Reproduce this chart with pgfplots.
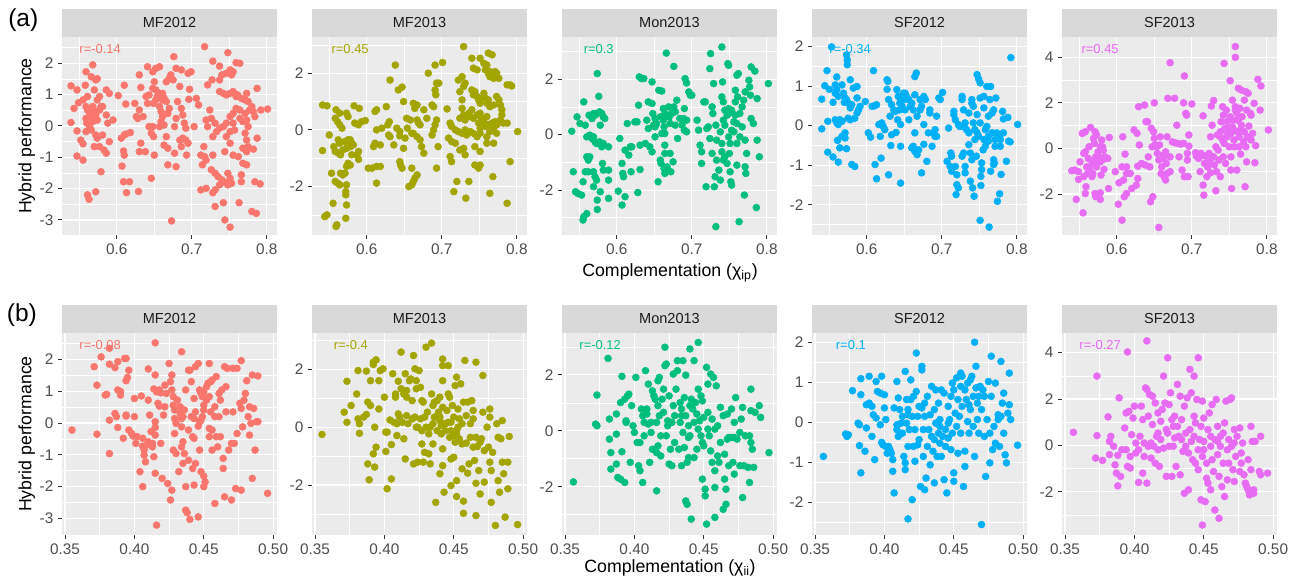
\documentclass[border=0pt]{standalone}
\usepackage{pgfplots}
\pgfplotsset{compat=1.18}
\usepackage{fontspec}
\setmainfont{Liberation Sans}
\definecolor{c1}{HTML}{F8766D}
\definecolor{c2}{HTML}{A3A500}
\definecolor{c3}{HTML}{00BF7D}
\definecolor{c4}{HTML}{00B0F6}
\definecolor{c5}{HTML}{E76BF3}
\definecolor{panelbg}{HTML}{EBEBEB}
\definecolor{stripbg}{HTML}{D9D9D9}
\definecolor{tickc}{HTML}{333333}
\definecolor{labc}{HTML}{4D4D4D}
\definecolor{stript}{HTML}{1A1A1A}
\newcommand{\strip}[1]{\fill[stripbg] (rel axis cs:0,1) rectangle ([yshift=21pt]rel axis cs:1,1); \node[text=stript, font=\fontsize{10.9}{12}\selectfont] at ([yshift=10.5pt]rel axis cs:0.5,1) {#1};}
\newcommand{\rlab}[3]{\node[anchor=west, inner sep=0pt, text=#1, font=\fontsize{9.7}{11}\selectfont] at (rel axis cs:#2,0.94) {#3};}
\pgfplotsset{
 base/.style={scale only axis, width=161.25pt, axis background/.style={fill=panelbg},
  axis line style={draw=none}, grid=both,
  major grid style={white,line width=0.85pt}, minor grid style={white,line width=0.45pt},
  tick align=outside, tick pos=left, major tick length=3pt, minor tick length=0pt,
  tick style={color=tickc, line width=0.7pt},
  ticklabel style={font=\fontsize{11.5}{13}\selectfont, text=labc},
  clip=false, anchor=south west},
 rowa/.style={base, height=148.5pt, xmin=0.527, xmax=0.8135, xtick={0.6,0.7,0.8}, xticklabels={0.6,0.7,0.8}, minor xtick={0.55,0.65,0.75}},
 rowb/.style={base, height=151.5pt, xmin=0.3478, xmax=0.5028, xtick={0.35,0.40,0.45,0.50}, xticklabels={0.35,0.40,0.45,0.50}, minor xtick={0.375,0.425,0.475}},
 pts/.style={only marks, mark=*, mark size=2.6pt, #1, mark options={draw=none, fill=#1}},
}
\begin{document}
\begin{tikzpicture}
\useasboundingbox (0,0) rectangle (971.25pt,435.75pt);
% ---------- row (a) ----------
\begin{axis}[rowa, at={(46.5pt,259.5pt)}, ymin=-3.48, ymax=2.84, ytick={-3,-2,-1,0,1,2}, yticklabels={-3,-2,-1,0,1,2}, minor ytick={-2.5,-1.5,-0.5,0.5,1.5,2.5}]
\addplot[pts=c1] coordinates {(0.539,1.28)(0.547,1.15)(0.539,0.11)(0.543,0.56)(0.549,0.74)(0.547,-0.16)(0.552,-0.45)(0.555,-0.57)(0.547,-0.96)(0.555,-1.09)(0.559,1.73)(0.558,1.30)(0.568,1.95)(0.566,1.57)(0.572,1.47)(0.574,1.51)(0.561,-2.2)(0.563,-2.34)(0.572,-2.1)(0.579,-1.46)(0.559,0.62)(0.561,0.51)(0.564,0.40)(0.566,0.30)(0.568,0.62)(0.570,0.46)(0.572,0.35)(0.559,0.24)(0.560,0.09)(0.564,-0.02)(0.568,0.14)(0.574,0.19)(0.577,0.51)(0.579,0.62)(0.577,0.94)(0.574,0.83)(0.581,0.62)(0.586,0.35)(0.588,0.09)(0.595,0.19)(0.590,1.04)(0.586,1.15)(0.570,1.15)(0.572,-0.29)(0.574,-0.39)(0.570,-0.66)(0.577,-0.66)(0.581,-0.29)(0.583,-0.77)(0.586,-0.87)(0.590,-0.5)(0.559,-0.18)(0.566,-0.13)(0.555,0.83)(0.561,0.94)
(0.602,0.97)(0.610,1.30)(0.612,0.70)(0.606,-0.39)(0.610,-0.29)(0.612,-0.26)(0.609,-0.8)(0.610,-0.93)(0.607,-1.28)(0.609,-1.78)(0.617,-1.78)(0.613,-2.13)(0.629,-2.09)(0.618,-0.21)(0.630,1.63)(0.632,1.23)(0.624,0.72)(0.630,0.51)(0.626,0.30)(0.635,0.30)(0.628,0.24)(0.632,-0.55)(0.630,-0.82)(0.638,-0.82)(0.646,-1.67)(0.641,1.89)(0.639,0.94)(0.641,0.72)(0.643,-0.02)(0.648,-0.02)(0.646,-0.23)(0.649,-0.34)(0.650,-0.93)(0.648,1.73)(0.652,1.84)(0.657,1.89)(0.650,1.41)(0.652,1.15)(0.648,1.2)(0.643,0.99)(0.649,0.72)(0.652,0.83)(0.654,0.94)(0.657,1.04)(0.659,0.94)(0.661,0.83)(0.661,1.04)(0.663,0.89)(0.666,0.78)(0.657,0.62)(0.659,0.46)(0.661,0.30)(0.659,0.14)(0.663,0.03)(0.657,-0.02)(0.668,0.40)(0.670,0.56)(0.666,1.41)(0.670,1.52)(0.672,1.63)(0.675,1.47)(0.676,2.21)(0.679,1.84)(0.686,1.79)(0.684,1.26)(0.681,0.78)(0.686,0.56)(0.688,0.35)(0.690,0.09)(0.692,-0.07)(0.679,0.24)(0.677,-0.02)(0.666,-0.34)(0.663,-0.61)(0.668,-0.71)(0.677,-0.87)(0.684,-0.45)(0.688,-0.39)(0.692,-0.45)(0.695,-0.55)(0.686,-0.66)(0.693,-0.93)(0.668,-1.24)(0.679,-1.30)(0.673,-3.03)(0.695,1.68)(0.699,1.73)(0.697,1.17)(0.696,0.85)(0.703,-0.02)(0.706,0.88)(0.709,0.67)
(0.717,2.53)(0.728,2.07)(0.737,1.91)(0.748,2.34)(0.759,2.02)(0.764,2.0)(0.721,1.31)(0.727,1.47)(0.737,1.47)(0.740,1.63)(0.746,1.68)(0.751,1.79)(0.753,1.63)(0.755,1.73)(0.737,1.1)(0.742,1.04)(0.746,0.99)(0.751,1.04)(0.755,1.10)(0.759,0.94)(0.761,0.99)(0.766,0.88)(0.755,0.40)(0.759,0.56)(0.764,0.51)(0.771,0.40)(0.777,0.51)(0.782,0.46)(0.784,0.30)(0.787,1.2)(0.792,0.51)(0.801,0.54)(0.751,0.30)(0.746,0.09)(0.742,-0.02)(0.737,-0.07)(0.733,-0.18)(0.728,-0.34)(0.726,0.24)(0.724,0.51)(0.731,0.09)(0.755,0.09)(0.757,-0.13)(0.764,0.24)(0.768,0.14)(0.773,0.19)(0.775,-0.02)(0.771,-0.23)(0.773,-0.45)(0.775,-0.66)(0.768,-0.71)(0.773,-0.82)(0.751,-0.18)(0.746,-0.34)(0.751,-0.55)(0.744,-0.82)(0.755,-0.93)(0.762,-0.98)(0.768,-1.19)(0.773,-1.24)(0.766,-1.56)(0.766,-1.78)(0.782,-0.74)(0.787,-0.39)(0.719,0.19)(0.721,-0.02)(0.716,-0.66)(0.712,-0.93)(0.717,-0.98)(0.719,-1.09)(0.714,-1.24)(0.728,-0.93)(0.726,-1.4)(0.731,-1.51)(0.735,-1.62)(0.740,-1.72)(0.748,-1.51)(0.751,-1.67)(0.748,-1.88)(0.745,-1.81)(0.753,-1.83)(0.737,-1.88)(0.728,-2.13)(0.712,-2.04)(0.719,-1.99)(0.731,-2.04)(0.731,-2.57)(0.742,-2.45)(0.763,-2.45)(0.744,-3.0)(0.751,-3.23)(0.780,-2.73)(0.786,-2.79)(0.791,-1.85)(0.784,-1.78)(0.780,0.62)(0.775,0.78)(0.773,1.04)(0.771,0.83)};
\strip{MF2012}
\rlab{c1}{0.08}{r=-0.14}
\end{axis}
\begin{axis}[rowa, at={(234pt,259.5pt)}, ymin=-3.71, ymax=3.28, ytick={-2,0,2}, yticklabels={-2,0,2}, minor ytick={-3,-1,1,3}]
\addplot[pts=c2] coordinates {(0.541,0.88)(0.547,0.85)(0.541,-0.73)(0.550,-0.18)(0.553,-1.53)(0.544,-3.06)(0.547,-3.0)(0.555,-2.59)(0.559,-3.41)(0.560,-3.35)(0.559,0.71)(0.558,0.41)(0.561,0.29)(0.564,0.18)(0.567,0.06)(0.556,-0.59)(0.558,-0.76)(0.562,-0.82)(0.565,-0.88)(0.568,-0.71)(0.571,-0.41)(0.575,-0.35)(0.578,-0.35)(0.580,-0.47)(0.582,-0.53)(0.578,-0.59)(0.573,-0.65)(0.562,-0.35)(0.564,-0.47)(0.558,-1.82)(0.561,-1.88)(0.564,-1.94)(0.565,-1.53)(0.568,-1.59)(0.571,-1.53)(0.573,-1.29)(0.575,-1.18)(0.578,-1.24)(0.573,-1.94)(0.572,-2.18)(0.572,-2.29)(0.573,-2.65)(0.572,-3.12)(0.564,0.59)(0.573,0.59)(0.575,0.47)(0.583,0.85)(0.590,0.76)(0.584,0.24)(0.589,0.18)(0.593,0.29)(0.598,0.33)(0.589,-0.76)(0.587,-0.88)(0.589,-1.04)(0.580,-0.88)
(0.602,-1.35)(0.607,-1.35)(0.613,-1.29)(0.618,-1.29)(0.613,-1.88)(0.609,-0.59)(0.611,-0.47)(0.618,-0.53)(0.611,0.65)(0.613,0.71)(0.613,0.0)(0.620,0.06)(0.626,0.82)(0.628,0.18)(0.630,0.29)(0.629,-0.18)(0.631,-0.24)(0.631,1.76)(0.638,2.29)(0.636,-0.53)(0.642,1.41)(0.647,1.51)(0.640,0.06)(0.644,-0.06)(0.644,-0.21)(0.649,1.0)(0.651,-0.29)(0.649,-0.65)(0.644,-1.12)(0.645,-1.24)(0.647,-1.35)(0.653,0.41)(0.658,0.35)(0.654,0.06)(0.660,-0.12)(0.656,-2.0)(0.660,-1.94)(0.662,-1.82)(0.664,-1.71)(0.667,-1.59)(0.660,-1.35)(0.662,0.94)(0.667,0.88)(0.664,0.76)(0.667,0.35)(0.669,0.24)(0.671,0.18)(0.662,-0.12)(0.667,-0.24)(0.671,-0.35)(0.673,-0.59)(0.676,-0.82)(0.676,0.71)(0.680,0.41)(0.682,2.0)(0.687,0.88)(0.689,0.82)(0.689,0.0)(0.687,-0.18)(0.691,2.29)(0.691,1.41)(0.692,1.24)(0.693,1.65)(0.696,1.65)(0.693,0.35)(0.691,0.18)(0.693,-1.35)(0.695,-0.59)
(0.701,2.38)(0.707,0.74)(0.711,0.24)(0.713,0.12)(0.718,0.0)(0.711,-0.94)(0.713,-1.12)(0.716,-2.18)(0.709,-0.29)(0.713,-0.41)(0.718,-0.47)(0.720,-1.82)(0.722,1.76)(0.727,1.88)(0.729,2.94)(0.724,1.35)(0.727,1.06)(0.727,0.76)(0.729,1.53)(0.731,1.65)(0.729,0.53)(0.731,0.35)(0.724,0.41)(0.722,-0.06)(0.727,-0.12)(0.731,0.0)(0.733,-0.18)(0.729,-0.65)(0.731,-0.88)(0.724,-0.71)(0.732,-2.41)(0.736,-1.82)(0.740,2.53)(0.742,2.18)(0.751,2.53)(0.747,2.12)(0.740,1.41)(0.742,1.24)(0.744,1.35)(0.747,1.18)(0.749,1.06)(0.751,0.94)(0.753,1.12)(0.756,1.29)(0.758,1.12)(0.760,0.94)(0.762,1.06)(0.764,0.82)(0.769,0.88)(0.773,1.18)(0.776,1.06)(0.756,2.35)(0.758,2.12)(0.760,2.29)(0.762,2.71)(0.767,2.65)(0.762,2.0)(0.764,2.06)(0.769,2.0)(0.771,2.06)(0.773,2.0)(0.764,1.88)(0.769,1.82)(0.776,1.82)(0.736,0.59)(0.740,0.71)(0.738,0.47)(0.742,0.41)(0.747,0.53)(0.751,0.59)(0.753,0.41)(0.756,0.29)(0.760,0.47)(0.749,0.24)(0.751,0.06)(0.758,0.12)(0.762,0.18)(0.767,0.24)(0.771,0.29)(0.773,0.18)(0.778,0.35)(0.780,0.53)(0.782,0.24)(0.787,0.24)(0.769,0.06)(0.773,-0.12)(0.764,-0.06)(0.760,-0.24)(0.751,-0.12)(0.747,-0.24)(0.742,-0.12)(0.738,-0.06)(0.744,-0.59)(0.751,-0.76)(0.760,-0.47)(0.769,-0.47)(0.744,-1.24)(0.749,-1.35)(0.751,-1.24)(0.768,-1.65)(0.764,-2.24)(0.787,-2.59)(0.791,-1.12)(0.787,1.59)(0.791,1.59)(0.793,1.55)(0.801,-0.06)(0.780,0.71)(0.778,0.88)};
\strip{MF2013}
\rlab{c2}{0.09}{r=0.45}
\end{axis}
\begin{axis}[rowa, at={(421.5pt,259.5pt)}, ymin=-3.62, ymax=3.52, ytick={-2,0,2}, yticklabels={-2,0,2}, minor ytick={-3,-1,1,3}]
\addplot[pts=c3] coordinates {(0.540,0.12)(0.542,-1.34)(0.545,-2.06)(0.548,-2.12)(0.547,0.64)(0.551,0.40)(0.553,-2.18)(0.555,-1.70)(0.555,-3.08)(0.556,-2.96)(0.560,-2.85)(0.556,1.18)(0.558,0.34)(0.560,-0.08)(0.560,-0.80)(0.562,-0.92)(0.558,-1.34)(0.562,-1.34)(0.564,-0.80)(0.563,0.70)(0.567,0.58)(0.564,-0.02)(0.567,-0.14)(0.569,-0.08)(0.569,0.76)(0.571,0.70)(0.574,2.20)(0.576,1.38)(0.573,0.76)(0.577,0.82)(0.580,0.76)(0.582,0.64)(0.584,0.58)(0.569,-1.34)(0.571,-1.52)(0.573,-1.64)(0.569,-1.88)(0.574,-2.36)(0.574,-2.70)(0.578,-2.06)(0.577,-0.26)(0.578,-0.32)(0.580,-0.44)(0.582,-0.32)(0.581,-1.04)(0.582,-1.28)(0.578,0.34)(0.571,-0.26)(0.573,-0.32)(0.589,-0.44)(0.589,-1.28)(0.589,-1.64)(0.589,-2.30)
(0.602,-2.04)(0.604,-0.14)(0.607,-1.04)(0.608,-1.40)(0.607,-2.54)(0.611,-2.24)(0.609,-1.52)(0.611,-0.56)(0.614,0.40)(0.616,-0.74)(0.618,-0.44)(0.620,-0.44)(0.619,-1.34)(0.628,-2.09)(0.624,0.46)(0.627,0.46)(0.630,2.08)(0.633,2.02)(0.629,1.06)(0.631,-1.26)(0.631,-0.38)(0.638,-0.32)(0.636,2.02)(0.640,0.52)(0.642,0.22)(0.642,1.18)(0.647,1.12)(0.647,1.90)(0.644,-0.44)(0.647,-0.62)(0.648,0.76)(0.649,0.34)(0.651,0.58)(0.651,0.28)(0.651,-0.08)(0.655,-1.70)(0.653,0.40)(0.656,1.60)(0.660,1.57)(0.658,0.64)(0.660,0.04)(0.658,-0.92)(0.659,-1.04)(0.662,0.52)(0.662,0.94)(0.664,0.76)(0.663,0.28)(0.664,0.04)(0.666,2.94)(0.664,-0.38)(0.664,-0.68)(0.663,-1.22)(0.664,-1.40)(0.667,-1.16)(0.669,1.00)(0.670,0.64)(0.671,0.40)(0.671,-0.68)(0.672,-1.34)(0.673,0.76)(0.675,-0.98)(0.676,2.46)(0.676,1.00)(0.678,0.82)(0.680,1.24)(0.681,-0.14)(0.678,0.34)(0.684,0.58)(0.687,0.34)(0.689,0.58)(0.690,0.94)(0.690,0.16)(0.691,2.02)(0.693,1.86)(0.696,1.54)(0.698,1.42)(0.700,1.42)(0.693,0.10)(0.693,0.52)
(0.707,0.52)(0.709,0.16)(0.711,-0.38)(0.713,-0.62)(0.713,-1.04)(0.716,1.18)(0.718,1.18)(0.720,0.22)(0.719,-1.88)(0.722,0.28)(0.724,-0.14)(0.727,-0.68)(0.728,0.76)(0.724,2.38)(0.725,2.92)(0.727,1.00)(0.729,1.84)(0.730,-1.88)(0.731,-1.52)(0.732,0.34)(0.733,-0.20)(0.733,-0.92)(0.736,-1.28)(0.738,-1.64)(0.732,-3.32)(0.740,3.16)(0.738,0.10)(0.740,-0.32)(0.740,-0.62)(0.742,-0.92)(0.740,1.36)(0.741,1.90)(0.742,1.18)(0.742,0.52)(0.744,0.34)(0.744,-0.80)(0.747,-1.04)(0.748,2.56)(0.749,2.50)(0.749,0.94)(0.749,0.76)(0.749,-0.08)(0.751,-0.32)(0.750,-0.68)(0.751,-1.34)(0.752,-1.70)(0.753,-1.82)(0.753,0.16)(0.756,0.46)(0.756,0.10)(0.758,1.18)(0.758,0.70)(0.760,2.14)(0.762,2.20)(0.761,1.36)(0.760,0.40)(0.760,-0.32)(0.760,-1.10)(0.763,-3.14)(0.764,0.76)(0.764,-0.08)(0.767,1.00)(0.767,0.28)(0.769,1.24)(0.770,-2.18)(0.771,1.54)(0.771,-0.20)(0.771,-1.16)(0.772,-1.40)(0.773,-0.68)(0.776,1.96)(0.777,1.72)(0.778,1.42)(0.779,0.58)(0.779,2.44)(0.782,0.40)(0.784,2.29)(0.787,1.30)(0.786,-2.63)(0.787,-0.20)(0.790,-0.80)(0.802,1.84)(0.744,0.88)(0.747,0.70)(0.753,0.88)(0.758,1.60)};
\strip{Mon2013}
\rlab{c3}{0.10}{r=0.3}
\end{axis}
\begin{axis}[rowa, at={(609pt,259.5pt)}, ymin=-2.76, ymax=2.24, ytick={-2,-1,0,1,2}, yticklabels={-2,-1,0,1,2}, minor ytick={-2.5,-1.5,-0.5,0.5,1.5}]
\addplot[pts=c4] coordinates {(0.540,-0.08)(0.540,0.67)(0.544,1.01)(0.547,1.39)(0.548,0.11)(0.550,0.92)(0.548,-0.67)(0.553,1.99)(0.555,0.59)(0.555,-0.79)(0.558,1.03)(0.560,0.91)(0.558,0.82)(0.562,0.74)(0.560,1.23)(0.562,-0.92)(0.564,-0.56)(0.558,0.15)(0.560,0.07)(0.562,0.03)(0.564,0.15)(0.567,0.11)(0.561,-0.37)(0.567,-0.27)(0.567,1.03)(0.569,0.82)(0.571,0.70)(0.570,0.59)(0.571,-0.18)(0.571,-0.31)(0.573,1.79)(0.574,1.66)(0.574,1.54)(0.573,-0.58)(0.573,0.66)(0.575,0.57)(0.578,0.45)(0.580,0.53)(0.578,1.16)(0.575,0.19)(0.578,0.15)(0.580,-0.98)(0.584,-1.03)(0.582,0.95)(0.587,0.99)(0.587,0.70)(0.589,0.40)(0.591,0.49)(0.584,0.19)(0.587,0.32)(0.598,0.61)
(0.602,-0.18)(0.605,-0.29)(0.607,0.49)(0.609,1.39)(0.610,0.50)(0.613,0.53)(0.611,-0.98)(0.613,-1.34)(0.616,0.03)(0.618,-0.27)(0.619,-0.82)(0.620,0.07)(0.622,-0.02)(0.624,-0.10)(0.627,1.16)(0.627,0.92)(0.628,1.12)(0.629,-1.24)(0.629,0.66)(0.631,0.24)(0.632,-0.50)(0.633,-0.23)(0.633,0.53)(0.636,0.40)(0.638,0.36)(0.640,0.91)(0.639,-0.17)(0.641,0.15)(0.642,0.74)(0.644,0.40)(0.644,0.57)(0.645,0.03)(0.645,-0.52)(0.645,-1.45)(0.647,0.49)(0.649,0.82)(0.650,0.66)(0.651,0.40)(0.651,0.82)(0.653,0.74)(0.656,0.66)(0.656,0.15)(0.658,0.49)(0.660,0.57)(0.662,0.40)(0.664,0.78)(0.664,1.24)(0.666,1.33)(0.667,0.24)(0.664,-0.18)(0.662,-0.52)(0.660,-0.56)(0.664,-0.65)(0.667,-0.73)(0.669,-0.61)(0.671,0.66)(0.673,0.49)(0.671,0.40)(0.673,-1.19)(0.676,0.03)(0.676,0.74)(0.678,0.66)(0.676,-0.47)(0.680,-0.90)(0.682,-0.18)(0.684,0.32)(0.684,0.40)(0.687,-0.52)(0.689,-0.18)(0.691,-0.27)(0.691,-0.10)(0.693,0.24)(0.696,0.70)(0.698,0.66)(0.701,0.84)(0.693,-0.27)
(0.707,-0.90)(0.709,-0.06)(0.712,-0.69)(0.713,-0.77)(0.711,-1.03)(0.713,-1.15)(0.716,0.36)(0.716,0.28)(0.718,-1.03)(0.720,-1.24)(0.720,-1.49)(0.722,-1.57)(0.719,-1.74)(0.718,0.15)(0.722,0.03)(0.724,-0.02)(0.727,-0.02)(0.727,0.74)(0.727,0.66)(0.727,-0.77)(0.729,-0.69)(0.731,-1.03)(0.731,-1.19)(0.729,0.40)(0.731,0.07)(0.733,-0.10)(0.736,0.32)(0.736,-0.18)(0.736,-0.48)(0.738,-1.40)(0.738,-0.69)(0.740,-0.86)(0.740,0.66)(0.740,0.57)(0.741,-1.57)(0.743,-1.78)(0.742,0.49)(0.742,0.07)(0.744,-0.10)(0.744,-0.35)(0.746,-0.77)(0.747,1.29)(0.749,1.18)(0.747,-0.18)(0.749,-0.27)(0.751,1.08)(0.751,0.70)(0.752,-1.28)(0.752,-1.51)(0.751,-2.39)(0.753,-0.94)(0.753,-1.11)(0.755,-0.61)(0.756,-0.35)(0.756,0.45)(0.756,0.74)(0.758,-0.52)(0.760,0.99)(0.760,-0.02)(0.762,-0.27)(0.762,-0.39)(0.763,-2.56)(0.764,0.66)(0.765,0.99)(0.765,-1.15)(0.767,0.32)(0.769,0.40)(0.769,-0.86)(0.769,-0.98)(0.770,-0.94)(0.771,-0.35)(0.771,-0.52)(0.772,0.70)(0.773,-0.18)(0.774,-1.91)(0.776,-0.27)(0.777,-1.72)(0.778,-0.52)(0.778,-0.35)(0.779,-1.23)(0.781,0.36)(0.782,0.17)(0.782,-0.18)(0.786,-0.90)(0.788,0.21)(0.789,-0.39)(0.791,-0.41)(0.792,1.72)(0.801,0.03)(0.758,-0.10)(0.767,-0.18)(0.762,0.24)(0.751,0.07)(0.747,0.28)};
\strip{SF2012}
\rlab{c4}{0.08}{r=-0.34}
\end{axis}
\begin{axis}[rowa, at={(796.5pt,259.5pt)}, ymin=-3.8, ymax=4.89, ytick={-2,0,2,4}, yticklabels={-2,0,2,4}, minor ytick={-3,-1,1,3}]
\addplot[pts=c5] coordinates {(0.540,-0.98)(0.544,-0.95)(0.546,-2.24)(0.549,-1.36)(0.551,-0.59)(0.549,-1.02)(0.554,0.66)(0.555,-2.83)(0.558,0.73)(0.556,-0.22)(0.558,-0.15)(0.556,-1.24)(0.558,-1.98)(0.559,-1.68)(0.560,-0.81)(0.561,-1.10)(0.562,-0.44)(0.563,0.07)(0.565,0.92)(0.564,-0.88)(0.567,-0.66)(0.568,-1.10)(0.567,-1.24)(0.569,0.44)(0.570,0.22)(0.571,0.73)(0.571,-0.51)(0.572,-0.37)(0.571,-1.98)(0.572,-2.12)(0.573,0.59)(0.573,-0.81)(0.575,-0.15)(0.575,-0.29)(0.578,0.07)(0.578,-0.59)(0.579,-1.17)(0.580,0.37)(0.581,0.07)(0.582,-0.07)(0.582,-0.48)(0.578,-2.24)(0.578,-1.95)(0.583,-0.92)(0.584,-0.37)(0.588,-0.44)(0.589,-1.76)(0.590,0.48)(0.598,-1.02)
(0.602,-2.45)(0.603,-1.51)(0.607,-3.15)(0.608,0.51)(0.607,-0.81)(0.609,-1.39)(0.610,-2.12)(0.611,-0.25)(0.613,-0.81)(0.613,-1.10)(0.613,-1.98)(0.618,-1.10)(0.620,-1.76)(0.623,0.81)(0.626,-1.61)(0.627,0.66)(0.628,-0.78)(0.628,-1.32)(0.629,1.83)(0.630,0.15)(0.633,-0.66)(0.637,1.90)(0.638,-0.73)(0.639,1.17)(0.641,1.17)(0.642,-0.37)(0.644,-0.81)(0.645,-2.34)(0.646,0.88)(0.647,0.07)(0.648,-2.12)(0.649,0.73)(0.650,2.00)(0.650,0.44)(0.651,0.15)(0.653,0.07)(0.654,-0.22)(0.656,-3.47)(0.656,-0.51)(0.657,0.15)(0.658,0.51)(0.659,-1.10)(0.660,-0.81)(0.662,-0.44)(0.662,-0.29)(0.663,-1.24)(0.665,-1.39)(0.665,-0.15)(0.666,-0.66)(0.667,-1.10)(0.667,0.51)(0.668,2.20)(0.671,3.76)(0.671,-1.02)(0.671,-0.37)(0.674,0.29)(0.677,2.20)(0.677,0.25)(0.680,1.02)(0.681,0.22)(0.683,-0.37)(0.685,0.19)(0.687,-0.95)(0.689,2.00)(0.689,0.22)(0.690,3.18)(0.690,-1.24)(0.692,1.54)(0.693,1.46)(0.694,-0.51)(0.694,-0.22)(0.695,-1.24)(0.696,0.59)(0.696,0.10)(0.700,1.95)
(0.705,-0.19)(0.706,-0.34)(0.709,-0.44)(0.711,-1.02)(0.712,-0.22)(0.714,-0.29)(0.715,1.43)(0.715,-1.61)(0.716,-2.05)(0.717,-0.66)(0.718,-0.34)(0.720,-1.24)(0.721,-0.81)(0.723,-0.22)(0.724,-0.54)(0.725,0.51)(0.725,-1.07)(0.726,1.86)(0.727,1.02)(0.729,2.10)(0.729,-0.37)(0.730,-0.73)(0.732,-1.86)(0.732,0.07)(0.733,-1.02)(0.735,-0.07)(0.736,-0.51)(0.738,-1.24)(0.738,0.51)(0.738,0.73)(0.739,1.17)(0.741,1.83)(0.742,1.46)(0.742,-0.37)(0.743,3.73)(0.743,0.22)(0.744,0.88)(0.745,-0.66)(0.746,1.68)(0.747,1.17)(0.747,0.51)(0.748,0.66)(0.750,0.88)(0.750,0.07)(0.751,2.97)(0.751,1.39)(0.752,0.66)(0.752,-0.37)(0.752,-0.95)(0.753,-1.76)(0.754,2.12)(0.754,0.95)(0.755,1.24)(0.756,0.37)(0.757,0.07)(0.758,4.0)(0.758,4.47)(0.758,1.83)(0.760,1.54)(0.760,-0.95)(0.761,1.24)(0.761,0.73)(0.762,2.64)(0.763,0.51)(0.763,0.07)(0.764,1.76)(0.765,0.81)(0.765,-0.25)(0.766,2.56)(0.766,1.02)(0.767,1.39)(0.769,0.29)(0.770,2.12)(0.770,0.73)(0.771,-1.68)(0.772,2.49)(0.772,0.07)(0.773,1.68)(0.773,-0.59)(0.774,0.51)(0.775,2.42)(0.776,0.98)(0.778,1.54)(0.779,1.46)(0.779,0.37)(0.781,0.66)(0.783,1.98)(0.784,-0.63)(0.785,0.12)(0.788,3.03)(0.791,1.68)(0.792,2.74)(0.802,0.81)(0.734,0.59)(0.741,0.37)(0.756,0.81)(0.763,1.32)(0.758,1.68)};
\strip{SF2013}
\rlab{c5}{0.09}{r=0.45}
\end{axis}
% ---------- row (b) ----------
\begin{axis}[rowb, at={(46.5pt,34.5pt)}, ymin=-3.52, ymax=2.83, ytick={-3,-2,-1,0,1,2}, yticklabels={-3,-2,-1,0,1,2}, minor ytick={-2.5,-1.5,-0.5,0.5,1.5,2.5}]
\addplot[pts=c1] coordinates {(0.355,-0.22)(0.371,1.77)(0.373,1.19)(0.373,-0.35)(0.376,2.08)(0.382,2.35)(0.382,1.85)(0.386,1.74)(0.388,1.93)(0.393,2.03)(0.394,2.03)(0.380,0.90)(0.379,0.88)(0.382,-0.96)(0.382,0.09)(0.386,0.30)(0.387,0.20)(0.388,-0.14)(0.388,1.04)(0.390,0.99)(0.390,0.88)(0.392,-0.48)(0.394,0.22)(0.394,0.25)(0.394,1.33)(0.395,1.43)(0.396,1.66)(0.396,-0.22)(0.398,-0.33)(0.400,0.77)(0.400,0.20)(0.401,-0.64)(0.399,-0.41)(0.402,-0.43)(0.404,-1.53)(0.406,-2.0)(0.405,0.85)(0.406,-0.48)(0.406,-0.73)(0.407,-0.85)(0.407,-1.01)(0.408,-1.22)(0.409,-0.69)(0.410,-0.59)(0.410,1.70)(0.410,0.72)(0.411,0.25)(0.412,-0.27)(0.413,-0.64)(0.413,-0.75)(0.414,-1.06)(0.414,1.07)(0.415,2.52)(0.415,1.51)(0.415,0.04)(0.415,-0.14)(0.415,-0.38)(0.415,-1.58)(0.416,-3.21)(0.416,0.98)(0.417,0.62)(0.418,0.53)(0.418,1.04)(0.419,0.95)(0.419,-0.64)(0.420,-1.74)(0.421,0.25)(0.422,1.19)(0.422,0.51)(0.423,0.93)(0.424,-1.90)(0.425,1.87)(0.427,1.51)(0.426,-2.42)(0.427,-2.11)(0.426,1.30)(0.427,1.04)(0.428,0.83)(0.428,0.56)(0.429,0.41)(0.429,0.14)(0.428,-0.85)(0.430,-0.96)(0.430,-0.01)(0.431,0.72)(0.432,-1.53)(0.433,0.51)(0.433,0.30)(0.434,2.24)(0.434,0.14)(0.434,-0.12)(0.435,0.20)(0.435,-1.27)(0.435,-0.59)(0.436,0.41)(0.436,-0.96)(0.437,-2.0)(0.437,-2.74)(0.438,-2.82)(0.439,1.66)(0.439,-0.22)(0.439,-1.17)(0.440,-3.03)(0.440,1.66)(0.441,1.30)(0.441,0.20)(0.442,-1.43)(0.442,-0.43)(0.443,-1.95)(0.443,0.14)(0.443,0.77)(0.443,-0.48)(0.444,1.77)(0.444,0.35)(0.444,-1.27)(0.446,1.87)(0.446,-0.10)(0.446,-2.95)(0.447,-0.85)(0.447,0.04)(0.447,1.04)(0.448,-1.53)(0.448,0.09)(0.449,0.20)(0.449,0.83)(0.450,0.56)(0.450,-1.67)(0.450,0.98)(0.450,0.41)(0.450,-2.0)(0.451,-1.85)(0.452,1.14)(0.452,0.72)(0.453,1.25)(0.454,-0.17)(0.454,1.87)(0.454,-0.43)(0.455,0.35)(0.455,1.30)(0.456,-0.85)(0.456,-0.22)(0.456,1.35)(0.458,-2.53)(0.458,0.51)(0.458,0.20)(0.459,-0.43)(0.459,1.46)(0.460,-0.75)(0.461,0.93)(0.461,0.20)(0.462,0.72)(0.462,-0.43)(0.463,1.04)(0.464,-1.11)(0.464,-1.43)(0.465,1.77)(0.465,-2.32)(0.466,1.14)(0.466,0.35)(0.467,1.72)(0.468,-0.85)(0.470,-2.42)(0.470,-0.64)(0.471,0.35)(0.471,1.72)(0.472,-0.64)(0.473,-2.06)(0.474,1.72)(0.474,-0.33)(0.477,1.96)(0.477,-2.11)(0.476,0.62)(0.477,0.46)(0.478,-0.12)(0.479,0.72)(0.480,0.93)(0.481,1.33)(0.482,0.20)(0.483,0.51)(0.483,-0.38)(0.484,-0.01)(0.485,-1.74)(0.485,1.51)(0.486,0.46)(0.487,-0.85)(0.488,0.04)(0.489,1.48)(0.489,0.04)(0.496,-2.21)(0.454,0.83)(0.448,0.93)(0.437,1.04)(0.429,-0.33)(0.434,-0.75)};
\strip{MF2012}
\rlab{c1}{0.08}{r=-0.08}
\end{axis}
\begin{axis}[rowb, at={(234pt,34.5pt)}, ymin=-3.73, ymax=3.26, ytick={-2,0,2}, yticklabels={-2,0,2}, minor ytick={-3,-1,1,3}]
\addplot[pts=c2] coordinates {(0.355,-0.25)(0.371,0.52)(0.373,1.59)(0.373,0.17)(0.376,0.75)(0.380,1.15)(0.381,1.96)(0.381,0.29)(0.382,0.12)(0.382,-0.21)(0.385,0.35)(0.387,0.44)(0.387,1.94)(0.388,-1.27)(0.389,-1.82)(0.388,0.87)(0.390,0.75)(0.390,1.61)(0.392,2.17)(0.392,2.25)(0.394,2.33)(0.392,-0.92)(0.393,0.0)(0.393,-1.38)(0.394,-0.69)(0.396,0.63)(0.396,1.61)(0.397,1.96)(0.399,2.02)(0.400,1.04)(0.401,-0.17)(0.401,-0.84)(0.402,-2.13)(0.402,-0.17)(0.404,0.25)(0.405,-1.79)(0.405,-0.60)(0.406,1.85)(0.407,0.17)(0.408,1.15)(0.408,1.04)(0.409,0.12)(0.409,-0.29)(0.410,0.46)(0.410,1.59)(0.411,0.35)(0.412,1.33)(0.412,2.60)(0.413,0.17)(0.414,1.15)(0.414,-0.40)(0.415,-1.10)(0.415,1.85)(0.416,1.27)(0.416,1.04)(0.416,0.40)(0.417,0.12)(0.418,1.61)(0.419,1.67)(0.420,0.29)(0.420,0.92)(0.421,2.48)(0.421,-1.27)(0.422,2.02)(0.422,0.35)(0.423,1.33)(0.423,1.61)(0.423,0.0)(0.424,-1.21)(0.424,0.0)(0.425,1.96)(0.426,0.29)(0.426,1.38)(0.427,0.92)(0.427,-0.58)(0.427,-0.12)(0.428,-1.21)(0.428,0.87)(0.429,0.35)(0.429,-0.87)(0.430,2.77)(0.430,0.0)(0.431,0.52)(0.432,-0.23)(0.432,-0.92)(0.433,0.0)(0.433,-1.27)(0.434,2.91)(0.434,1.15)(0.435,0.75)(0.435,0.12)(0.435,-0.58)(0.436,0.35)(0.436,0.87)(0.437,-2.60)(0.438,-0.12)(0.438,0.92)(0.439,0.52)(0.440,0.23)(0.440,1.04)(0.440,-1.61)(0.440,0.35)(0.441,0.06)(0.441,-0.23)(0.442,2.36)(0.442,1.61)(0.442,-1.33)(0.442,2.13)(0.442,0.69)(0.442,-0.75)(0.443,-2.25)(0.444,-0.12)(0.444,0.12)(0.445,0.58)(0.446,0.17)(0.446,2.13)(0.446,1.15)(0.447,-0.35)(0.447,1.04)(0.448,-1.10)(0.448,-0.12)(0.448,-2.02)(0.449,0.75)(0.450,-1.04)(0.450,-0.29)(0.450,0.35)(0.451,1.44)(0.451,-0.52)(0.452,-2.40)(0.452,1.73)(0.452,-1.85)(0.452,-0.23)(0.453,0.63)(0.454,-0.40)(0.454,0.29)(0.455,1.50)(0.456,-0.58)(0.456,-1.44)(0.457,0.87)(0.457,-2.56)(0.457,-2.98)(0.458,2.31)(0.459,0.40)(0.459,-0.55)(0.460,0.87)(0.460,-1.59)(0.461,-1.27)(0.462,0.12)(0.462,-0.35)(0.463,0.92)(0.464,-0.69)(0.464,0.58)(0.464,0.29)(0.465,-1.15)(0.466,-3.06)(0.466,-1.94)(0.466,2.25)(0.466,-0.35)(0.467,-0.67)(0.468,-1.50)(0.469,-0.52)(0.469,-2.31)(0.470,-0.40)(0.471,0.52)(0.471,1.79)(0.472,-0.81)(0.472,-1.90)(0.474,0.0)(0.475,-0.69)(0.476,0.63)(0.476,0.35)(0.476,-1.21)(0.477,-1.50)(0.477,-2.60)(0.478,-0.87)(0.480,-3.40)(0.481,0.12)(0.482,-0.35)(0.482,-1.85)(0.483,-2.25)(0.484,-0.40)(0.485,0.23)(0.485,-1.21)(0.486,-1.61)(0.487,-3.11)(0.489,-1.21)(0.489,-2.13)(0.490,-0.32)(0.496,-3.37)(0.456,0.12)(0.453,0.0)(0.448,0.17)(0.452,-0.12)};
\strip{MF2013}
\rlab{c2}{0.10}{r=-0.4}
\end{axis}
\begin{axis}[rowb, at={(421.5pt,34.5pt)}, ymin=-3.73, ymax=3.50, ytick={-2,0,2}, yticklabels={-2,0,2}, minor ytick={-3,-1,1,3}]
\addplot[pts=c3] coordinates {(0.356,-1.83)(0.372,0.24)(0.373,0.18)(0.373,1.28)(0.381,2.59)(0.382,0.42)(0.382,-0.30)(0.383,-0.78)(0.383,-1.37)(0.387,0.60)(0.387,-0.12)(0.387,-1.19)(0.388,-1.67)(0.390,-1.73)(0.391,1.95)(0.391,-0.75)(0.390,1.01)(0.393,1.13)(0.393,-1.85)(0.394,0.36)(0.394,0.30)(0.395,1.25)(0.396,1.31)(0.397,-1.13)(0.398,0.90)(0.399,0.18)(0.400,-0.06)(0.401,1.91)(0.402,-0.42)(0.403,-1.25)(0.404,-0.42)(0.404,-1.43)(0.405,0.78)(0.406,-1.85)(0.406,0.54)(0.407,0.30)(0.407,-0.18)(0.408,2.15)(0.409,0.78)(0.409,0.60)(0.410,1.67)(0.410,0.24)(0.411,-1.13)(0.412,0.30)(0.412,-0.06)(0.413,-0.66)(0.413,1.43)(0.414,1.25)(0.415,1.13)(0.415,-0.66)(0.416,-0.78)(0.416,-2.15)(0.416,0.30)(0.417,1.79)(0.417,0.90)(0.417,-0.54)(0.418,1.91)(0.418,0.54)(0.419,-0.90)(0.419,-0.18)(0.420,1.13)(0.421,1.49)(0.421,0.66)(0.422,2.33)(0.422,2.99)(0.423,2.39)(0.423,-0.18)(0.424,0.18)(0.424,0.36)(0.425,-1.19)(0.425,1.25)(0.426,-0.66)(0.427,-1.25)(0.427,0.30)(0.428,0.90)(0.428,2.03)(0.429,-0.42)(0.429,0.54)(0.430,1.49)(0.431,2.51)(0.431,2.15)(0.432,-0.66)(0.433,1.01)(0.433,0.30)(0.434,-1.25)(0.434,0.78)(0.435,2.51)(0.435,-0.06)(0.436,1.19)(0.436,-0.60)(0.437,1.99)(0.437,-2.51)(0.437,0.54)(0.438,-2.63)(0.438,-1.13)(0.439,-0.96)(0.439,0.18)(0.440,2.93)(0.440,0.90)(0.440,-0.18)(0.441,1.13)(0.441,-3.16)(0.442,0.78)(0.443,-0.96)(0.443,2.51)(0.443,0.30)(0.444,1.01)(0.445,0.60)(0.445,-0.66)(0.446,3.16)(0.446,1.49)(0.447,0.36)(0.448,-0.18)(0.448,1.25)(0.449,-0.42)(0.449,1.07)(0.449,-1.73)(0.450,0.48)(0.450,-0.54)(0.451,-2.09)(0.451,-2.33)(0.452,-3.34)(0.452,2.27)(0.453,0.66)(0.453,1.67)(0.454,-0.18)(0.455,-0.72)(0.455,2.03)(0.456,-1.13)(0.456,0.42)(0.457,1.91)(0.458,-1.43)(0.458,-3.10)(0.458,-2.03)(0.459,1.61)(0.460,-0.90)(0.460,0.18)(0.461,-1.13)(0.462,0.84)(0.462,-0.42)(0.464,-2.81)(0.464,0.54)(0.465,-1.73)(0.465,-0.84)(0.466,-2.09)(0.466,-2.63)(0.467,-0.30)(0.467,0.60)(0.468,-1.25)(0.468,-0.24)(0.470,0.78)(0.470,-0.24)(0.471,-1.13)(0.472,-1.55)(0.472,0.30)(0.472,-0.24)(0.473,1.19)(0.474,-0.30)(0.476,-1.25)(0.476,-0.06)(0.477,0.42)(0.478,-2.39)(0.478,0.84)(0.479,-1.25)(0.480,-0.18)(0.482,-1.31)(0.483,-0.18)(0.483,-1.85)(0.484,-0.42)(0.484,1.49)(0.484,0.72)(0.485,-0.66)(0.486,-1.31)(0.487,0.66)(0.490,0.90)(0.491,0.48)(0.497,-0.78)(0.458,0.06)(0.453,0.06)(0.446,0.06)(0.439,-0.24)(0.434,0.54)};
\strip{Mon2013}
\rlab{c3}{0.08}{r=-0.12}
\end{axis}
\begin{axis}[rowb, at={(609pt,34.5pt)}, ymin=-2.81, ymax=2.23, ytick={-2,-1,0,1,2}, yticklabels={-2,-1,0,1,2}, minor ytick={-2.5,-1.5,-0.5,0.5,1.5}]
\addplot[pts=c4] coordinates {(0.356,-0.85)(0.372,-0.29)(0.373,-0.35)(0.374,-0.31)(0.377,0.79)(0.381,-0.02)(0.382,-0.06)(0.382,-0.58)(0.383,-1.26)(0.383,1.09)(0.383,0.69)(0.386,-0.72)(0.387,-0.14)(0.387,0.44)(0.389,1.15)(0.389,0.48)(0.391,0.40)(0.391,-0.35)(0.392,0.19)(0.393,-0.93)(0.394,0.11)(0.394,1.02)(0.395,0.77)(0.397,0.73)(0.397,-0.06)(0.398,1.15)(0.398,-0.50)(0.399,-0.56)(0.400,0.69)(0.400,0.36)(0.401,-0.60)(0.401,0.07)(0.402,-0.77)(0.403,-0.60)(0.404,-0.68)(0.405,-0.77)(0.406,-1.22)(0.406,-0.93)(0.407,-1.76)(0.407,0.36)(0.409,1.02)(0.409,-0.06)(0.409,-0.18)(0.410,0.61)(0.410,-0.35)(0.411,0.32)(0.412,-0.02)(0.413,0.15)(0.413,-0.27)(0.414,-0.85)(0.415,-1.01)(0.415,1.27)(0.415,-1.18)(0.416,-0.02)(0.416,0.57)(0.417,-2.41)(0.417,0.32)(0.417,-0.60)(0.417,0.19)(0.418,-0.18)(0.419,1.06)(0.419,0.57)(0.420,-1.93)(0.420,0.15)(0.421,-0.60)(0.421,0.65)(0.422,-0.97)(0.422,-0.18)(0.423,1.73)(0.423,0.77)(0.424,0.15)(0.424,-0.56)(0.425,0.40)(0.425,-0.43)(0.426,-1.60)(0.427,1.40)(0.427,1.31)(0.427,0.36)(0.428,-0.18)(0.428,-0.85)(0.429,0.48)(0.429,-1.68)(0.430,-1.39)(0.431,-0.60)(0.431,0.65)(0.432,-0.18)(0.433,0.19)(0.433,-1.06)(0.434,-0.35)(0.434,0.90)(0.435,-0.72)(0.436,0.32)(0.436,-1.51)(0.436,-0.43)(0.437,-0.02)(0.437,0.81)(0.438,-0.85)(0.439,-0.27)(0.439,0.48)(0.440,-0.52)(0.440,0.07)(0.441,0.81)(0.441,-0.85)(0.442,-0.35)(0.443,-1.43)(0.443,0.73)(0.444,-0.18)(0.444,-0.60)(0.445,-1.76)(0.446,0.40)(0.446,-0.39)(0.447,0.07)(0.448,0.65)(0.448,-0.68)(0.449,0.98)(0.449,-0.27)(0.450,-1.47)(0.450,-1.26)(0.450,0.81)(0.451,0.23)(0.452,1.11)(0.452,-0.10)(0.453,0.57)(0.453,-0.77)(0.454,0.15)(0.455,0.90)(0.455,1.23)(0.456,0.40)(0.456,1.15)(0.457,-1.60)(0.458,-0.72)(0.458,0.81)(0.458,-1.10)(0.459,0.57)(0.460,0.02)(0.460,0.98)(0.461,-0.27)(0.461,0.44)(0.462,1.06)(0.462,0.32)(0.463,1.15)(0.464,0.65)(0.464,-0.10)(0.465,2.0)(0.465,-0.85)(0.466,1.40)(0.466,0.86)(0.467,0.48)(0.467,0.07)(0.468,0.65)(0.468,-0.27)(0.469,0.90)(0.470,0.32)(0.470,-2.55)(0.471,0.81)(0.472,-0.35)(0.472,0.65)(0.473,-1.35)(0.474,0.07)(0.475,1.02)(0.476,-0.27)(0.476,-1.01)(0.477,1.65)(0.477,0.65)(0.478,-0.68)(0.479,-0.10)(0.480,0.98)(0.480,-0.52)(0.482,0.19)(0.482,0.07)(0.483,-0.60)(0.484,1.52)(0.484,0.15)(0.485,0.48)(0.486,0.73)(0.486,-0.27)(0.487,-0.81)(0.488,-1.01)(0.489,0.23)(0.490,1.23)(0.490,0.44)(0.491,0.07)(0.496,-0.57)(0.446,-0.02)(0.440,-0.10)(0.455,-0.27)(0.429,0.15)};
\strip{SF2012}
\rlab{c4}{0.11}{r=0.1}
\end{axis}
\begin{axis}[rowb, at={(796.5pt,34.5pt)}, ymin=-3.87, ymax=4.85, ytick={-2,0,2,4}, yticklabels={-2,0,2,4}, minor ytick={-3,-1,1,3}]
\addplot[pts=c5] coordinates {(0.356,0.56)(0.372,-0.55)(0.373,0.42)(0.373,2.99)(0.377,-0.65)(0.381,1.23)(0.382,-0.40)(0.382,0.17)(0.383,0.39)(0.385,-0.04)(0.386,-0.84)(0.387,-1.20)(0.388,-0.43)(0.388,-1.75)(0.389,2.05)(0.390,-1.34)(0.391,-0.19)(0.393,0.75)(0.394,-0.19)(0.394,1.40)(0.395,-0.91)(0.395,4.03)(0.396,1.47)(0.397,-0.48)(0.397,-0.98)(0.398,0.46)(0.399,1.18)(0.400,1.69)(0.401,0.10)(0.401,-0.33)(0.403,-1.60)(0.403,-0.19)(0.404,0.39)(0.405,1.69)(0.406,-1.20)(0.406,1.11)(0.407,0.10)(0.407,-0.48)(0.408,2.48)(0.409,2.41)(0.409,-1.63)(0.409,4.51)(0.410,1.26)(0.410,-0.04)(0.411,2.19)(0.412,-0.55)(0.412,0.10)(0.413,2.12)(0.413,0.90)(0.414,-0.04)(0.415,1.83)(0.415,-0.77)(0.416,0.39)(0.417,-0.19)(0.417,1.40)(0.417,0.53)(0.418,-0.91)(0.419,0.25)(0.419,1.04)(0.420,1.55)(0.421,-0.12)(0.421,2.99)(0.422,1.83)(0.423,-1.34)(0.423,0.68)(0.424,0.53)(0.424,3.78)(0.425,1.76)(0.425,-0.04)(0.426,2.27)(0.427,-1.34)(0.427,1.11)(0.428,-0.04)(0.428,0.82)(0.429,1.26)(0.429,0.32)(0.430,-0.91)(0.431,2.63)(0.431,0.82)(0.432,0.39)(0.433,2.12)(0.433,-1.27)(0.434,1.11)(0.434,0.25)(0.435,-0.26)(0.436,-2.07)(0.436,1.69)(0.437,-0.04)(0.437,0.53)(0.438,2.05)(0.439,-1.92)(0.439,-0.33)(0.440,0.68)(0.440,3.28)(0.441,0.17)(0.441,2.27)(0.442,-0.62)(0.443,2.99)(0.443,1.26)(0.443,0.39)(0.444,-0.77)(0.444,0.97)(0.445,1.98)(0.446,3.78)(0.446,-0.19)(0.446,-1.05)(0.447,0.25)(0.448,-2.35)(0.448,0.82)(0.449,1.91)(0.449,-0.48)(0.449,-3.44)(0.450,1.18)(0.450,0.17)(0.451,-2.43)(0.452,-1.42)(0.452,-0.77)(0.453,-1.63)(0.453,0.68)(0.454,1.40)(0.455,-0.04)(0.455,-1.92)(0.456,-0.62)(0.456,1.76)(0.457,-1.13)(0.458,0.25)(0.458,-2.79)(0.459,1.98)(0.460,-0.40)(0.460,0.82)(0.461,-3.15)(0.461,-1.34)(0.462,-0.04)(0.462,0.39)(0.463,-1.78)(0.464,-0.77)(0.464,0.53)(0.465,0.97)(0.465,-2.21)(0.466,1.91)(0.467,-0.19)(0.467,-1.49)(0.468,0.25)(0.468,-0.77)(0.469,1.98)(0.470,2.05)(0.470,-0.04)(0.471,-1.05)(0.472,0.68)(0.472,0.10)(0.472,-1.56)(0.473,-0.48)(0.474,0.39)(0.476,-1.13)(0.476,0.75)(0.477,-0.77)(0.477,-0.33)(0.478,0.10)(0.479,-1.27)(0.480,-1.63)(0.481,-1.78)(0.482,-1.92)(0.482,-0.62)(0.483,-1.99)(0.483,-2.14)(0.484,0.82)(0.484,-1.05)(0.485,0.17)(0.486,-2.07)(0.486,-1.92)(0.487,0.17)(0.490,-1.13)(0.491,0.39)(0.491,-1.27)(0.496,-1.20)(0.455,0.39)(0.460,0.17)(0.450,-0.19)};
\strip{SF2013}
\rlab{c5}{0.08}{r=-0.27}
\end{axis}
% ---------- labels ----------
\node[anchor=west, inner sep=0pt, font=\fontsize{18.4}{20}\selectfont] at (6pt,420.75pt) {(a)};
\node[anchor=west, inner sep=0pt, font=\fontsize{18.4}{20}\selectfont] at (5pt,199.5pt) {(b)};
\node[rotate=90, font=\fontsize{13.3}{15}\selectfont] at (20pt,333.75pt) {Hybrid performance};
\node[rotate=90, font=\fontsize{13.3}{15}\selectfont] at (20pt,110.25pt) {Hybrid performance};
\node[font=\fontsize{13.3}{15}\selectfont] at (502.5pt,231pt) {Complementation (χ\textsubscript{ip})};
\node[font=\fontsize{13.3}{15}\selectfont] at (502.5pt,9.75pt) {Complementation (χ\textsubscript{ii})};
\end{tikzpicture}
\end{document}
